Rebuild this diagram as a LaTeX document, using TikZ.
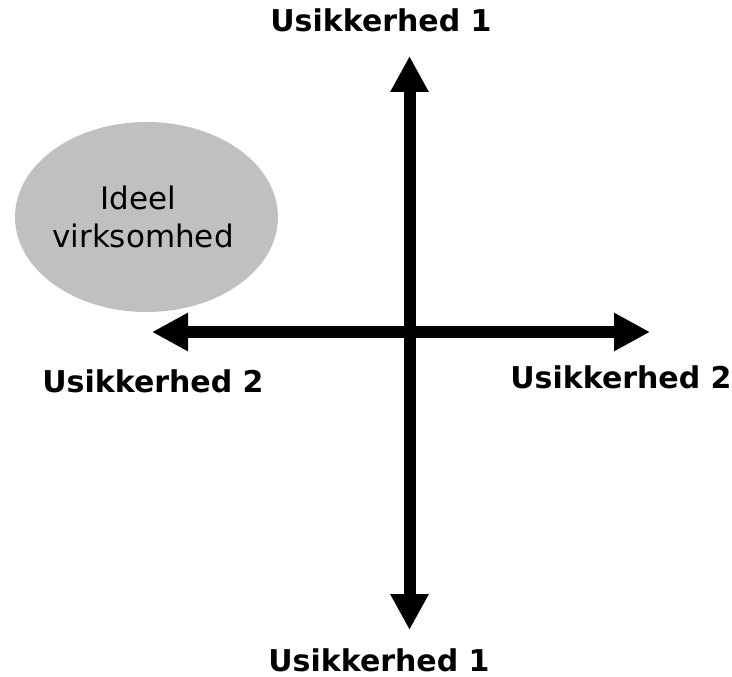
\documentclass[tikz,border=0pt]{standalone}
\usepackage{fontspec}
\setmainfont{DejaVu Sans}
\usetikzlibrary{arrows.meta}
\definecolor{blobgrey}{RGB}{192,192,192}
\tikzset{
  axis/.style={line width=12pt, {Triangle[length=36pt,width=36pt]}-{Triangle[length=36pt,width=36pt]}},
  axislabel/.style={font=\fontsize{30}{34}\selectfont\bfseries, anchor=base, inner sep=0pt},
  blobtext/.style={font=\fontsize{31}{38}\selectfont, anchor=base, inner sep=0pt}
}
\begin{document}
\begin{tikzpicture}[x=1pt,y=-1pt]
  \useasboundingbox (0,0) rectangle (732,677);
  % ideal position
  \fill[blobgrey] (146.5,217) ellipse [x radius=131.5pt, y radius=95pt];
  \node[blobtext] (t1) at (138,209) {Ideel};
  \node[blobtext] (t2) at (143,247) {virksomhed};
  % axes
  \coordinate (top) at (409.5,56);
  \coordinate (bot) at (409.5,630);
  \coordinate (lft) at (152,332);
  \coordinate (rgt) at (650,332);
  \draw[axis] (lft) -- (rgt);
  \draw[axis] (bot) -- (top);
  % axis labels
  \node[axislabel] (u1t) at (381,32) {Usikkerhed 1};
  \node[axislabel] (u1b) at (379,671) {Usikkerhed 1};
  \node[axislabel] (u2l) at (153,392) {Usikkerhed 2};
  \node[axislabel] (u2r) at (621,388) {Usikkerhed 2};
\end{tikzpicture}
\end{document}
